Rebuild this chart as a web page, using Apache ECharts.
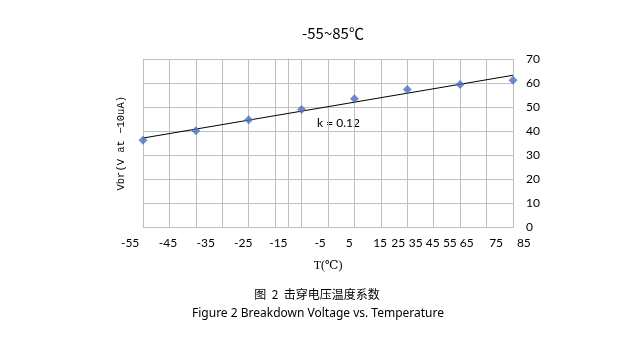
<!DOCTYPE html>
<html>
<head>
<meta charset="utf-8">
<script src="https://cdn.jsdelivr.net/npm/echarts@6/dist/echarts.min.js"></script>
<style>
  html, body { margin: 0; padding: 0; background: #ffffff; }
  #chart { width: 640px; height: 338px; }
</style>
</head>
<body>
<div id="chart"></div>
<script>
// Measured breakdown voltage at each test temperature
const temperatures = [-55, -35, -15, 5, 25, 45, 65, 85];
const vbrValues = [36.2, 40.2, 44.8, 49.0, 53.5, 57.3, 59.4, 61.2];

// Temperature axis tick labels and where each one sits along the axis
const xTickLabels = ['-55', '-45', '-35', '-25', '-15', '-5', '5', '15', '25', '35', '45', '55', '65', '75', '85'];
const xTickLabelSpots = [-60.0, -45.7, -31.4, -17.2, -3.9, 11.9, 22.9, 34.6, 41.5, 48.1, 54.5, 61.0, 67.4, 78.5, 89.0];

const chartTitle = '-55~85\u2103';
const slopeLabel = 'k = 0.12';
const captionCn = '图  2  击穿电压温度系数';
const captionEn = 'Figure 2 Breakdown Voltage vs. Temperature';

// Least-squares linear trend through the measured points
function linearFit(xs, ys) {
  const n = xs.length;
  const mx = xs.reduce((a, b) => a + b, 0) / n;
  const my = ys.reduce((a, b) => a + b, 0) / n;
  let sxy = 0, sxx = 0;
  for (let i = 0; i < n; i++) {
    sxy += (xs[i] - mx) * (ys[i] - my);
    sxx += (xs[i] - mx) * (xs[i] - mx);
  }
  const slope = sxy / sxx;
  return { slope, intercept: my - slope * mx };
}
const fit = linearFit(temperatures, vbrValues);
const xFirst = temperatures[0], xLast = temperatures[temperatures.length - 1];
const trendData = [
  [xFirst, fit.intercept + fit.slope * xFirst],
  [xLast, fit.intercept + fit.slope * xLast]
];

const gridGray = '#bfbfbf';
const labelFont = 'Lato, "Noto Sans", sans-serif';
const serifFont = '"Liberation Serif", "DejaVu Serif", serif';
const hiddenParts = {
  axisLine: { show: false }, axisTick: { show: false },
  axisLabel: { show: false }, splitLine: { show: false }
};

const chart = echarts.init(document.getElementById('chart'), null, { renderer: 'canvas' });
chart.setOption({
  animation: false,
  backgroundColor: '#ffffff',
  title: {
    text: chartTitle,
    left: 328, top: 21, textAlign: 'center',
    textStyle: { fontFamily: '"Noto Sans CJK SC", "Noto Sans", sans-serif', fontSize: 15, fontWeight: 'normal', color: '#000' }
  },
  grid: [
    { left: 143, top: 59, width: 370, height: 168.5 },
    // wider band that only carries the temperature tick labels
    { left: 116.9, top: 59, width: 422.8, height: 168.5 }
  ],
  xAxis: [
    {
      type: 'value', gridIndex: 0, min: -55, max: 85, interval: 10,
      axisLine: { show: true, lineStyle: { color: gridGray, width: 1 } },
      axisTick: { show: false },
      axisLabel: { show: false },
      splitLine: { show: true, lineStyle: { color: gridGray, width: 1 } },
      name: 'T(\u2103)', nameLocation: 'middle', nameGap: 32,
      nameTextStyle: { fontFamily: serifFont, fontSize: 12, color: '#000' }
    },
    {
      type: 'value', gridIndex: 1, min: -65, max: 95,
      axisLine: { show: false }, axisTick: { show: false }, splitLine: { show: false },
      axisLabel: {
        show: true,
        customValues: xTickLabelSpots,
        margin: 10,
        fontFamily: labelFont, fontSize: 12, color: '#000',
        formatter: function (v) {
          let best = 0;
          for (let i = 1; i < xTickLabelSpots.length; i++) {
            if (Math.abs(xTickLabelSpots[i] - v) < Math.abs(xTickLabelSpots[best] - v)) best = i;
          }
          return xTickLabels[best];
        }
      }
    }
  ],
  yAxis: [
    {
      type: 'value', gridIndex: 0, position: 'right', min: 0, max: 70, interval: 10,
      axisLine: { show: true, lineStyle: { color: gridGray, width: 1 } },
      axisTick: { show: false },
      axisLabel: { margin: 13, fontFamily: labelFont, fontSize: 12, color: '#000' },
      splitLine: { show: true, lineStyle: { color: gridGray, width: 1 } }
    },
    Object.assign({
      type: 'value', gridIndex: 0, position: 'left', min: 0, max: 70,
      name: 'Vbr(V at \u221210uA)', nameLocation: 'middle', nameRotate: 90, nameGap: 16,
      nameTextStyle: { fontFamily: '"Liberation Mono", "DejaVu Sans Mono", monospace', fontSize: 10.5, color: '#000' }
    }, hiddenParts),
    Object.assign({
      type: 'value', gridIndex: 1, position: 'left', min: 0, max: 70
    }, hiddenParts)
  ],
  series: [
    {
      name: 'trend', type: 'line', xAxisIndex: 0, yAxisIndex: 0,
      data: trendData, symbol: 'none', silent: true,
      lineStyle: { color: '#000', width: 1 },
      z: 2
    },
    {
      name: 'Vbr', type: 'scatter', xAxisIndex: 0, yAxisIndex: 0,
      data: temperatures.map((t, i) => [t, vbrValues[i]]),
      symbol: 'diamond', symbolSize: 9,
      itemStyle: { color: '#4a72c2' },
      z: 3
    }
  ],
  graphic: [
    {
      type: 'text', left: 317, top: 117,
      style: { text: slopeLabel, fontFamily: labelFont, fontSize: 12, fill: '#000' }
    },
    {
      type: 'text', x: 317, y: 294,
      style: { text: captionCn, fontFamily: '"Noto Sans CJK SC", sans-serif', fontSize: 12, fill: '#000', align: 'center', verticalAlign: 'middle' }
    },
    {
      type: 'text', x: 318, y: 314,
      style: { text: captionEn, fontFamily: '"Noto Sans", sans-serif', fontSize: 12, fill: '#000', align: 'center', verticalAlign: 'middle' }
    }
  ]
});
</script>
</body>
</html>
